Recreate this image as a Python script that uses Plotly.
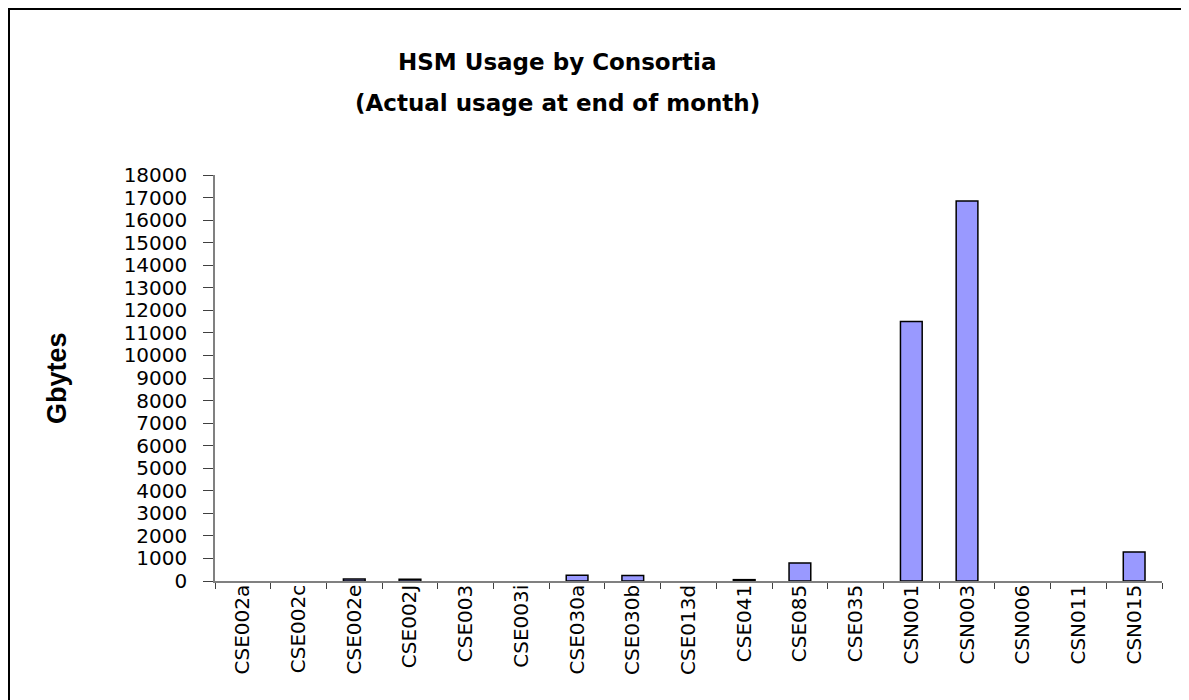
import plotly.graph_objects as go

consortia = ['CSE002a', 'CSE002c', 'CSE002e', 'CSE002J', 'CSE003', 'CSE003i',
             'CSE030a', 'CSE030b', 'CSE013d', 'CSE041', 'CSE085', 'CSE035',
             'CSN001', 'CSN003', 'CSN006', 'CSN011', 'CSN015']
# blank cells in the source sheet are left as None
gbytes = [None, None, 90, 80, None, None,
          260, 240, None, 60, 800, None,
          11500, 16850, None, None, 1290]
y_ticks = list(range(0, 18001, 1000))

# page has an 8px body margin, so the figure is a little smaller than the window
OFF = 8
W, H = 1189 - OFF, 700 - OFF
ML, MT = 215 - OFF, 175 - OFF
MR = W - (1162 - OFF)
MB = H - (581 - OFF)
pw = W - ML - MR
ph = H - MT - MB

WIDE = 'DejaVu Sans, Verdana, sans-serif'


def px_x(x):
    return (x - OFF - ML) / pw


def px_y(y):
    return (H - MB - (y - OFF)) / ph


fig = go.Figure()
fig.add_trace(go.Bar(
    x=consortia, y=gbytes,
    marker=dict(color='#9999FF', line=dict(color='black', width=1.5)),
    width=0.39,
))

fig.update_layout(
    width=W, height=H,
    margin=dict(l=ML, r=MR, t=MT, b=MB),
    paper_bgcolor='white', plot_bgcolor='white',
    showlegend=False,
    font=dict(family='Liberation Sans, Arial, sans-serif', color='black'),
)

for line, ypos in [('HSM Usage by Consortia', 62),
                   ('(Actual usage at end of month)', 103)]:
    fig.add_annotation(
        text=f'<b>{line}</b>', showarrow=False,
        xref='paper', yref='paper', x=px_x(557), y=px_y(ypos),
        xanchor='center', yanchor='middle', font=dict(size=23, family=WIDE),
    )

fig.update_xaxes(
    type='category', tickangle=-90, tickfont=dict(size=20, family=WIDE),
    showline=True, linecolor='#808080', linewidth=1.5,
    ticks='outside', ticklen=6, tickcolor='#404040', tickson='boundaries',
    showgrid=False, zeroline=False, ticklabelstandoff=-6,
)
fig.update_yaxes(
    range=[0, 18000], tickvals=y_ticks, ticktext=[str(v) for v in y_ticks],
    tickfont=dict(size=20, family=WIDE),
    showline=True, linecolor='#808080', linewidth=1.5,
    ticks='outside', ticklen=10, tickcolor='#404040',
    showgrid=False, zeroline=False, ticklabelstandoff=12,
)

fig.add_annotation(
    text='<b>Gbytes</b>', textangle=-90, showarrow=False,
    xref='paper', yref='paper', x=px_x(57), y=0.5,
    xanchor='center', yanchor='middle', font=dict(size=27),
)

# outer chart frame (left and top edges visible, rest runs off page)
fig.add_shape(
    type='rect', xref='paper', yref='paper',
    x0=px_x(OFF + 1), x1=px_x(1210),
    y0=px_y(720), y1=px_y(OFF + 1),
    line=dict(color='black', width=2),
)

fig.write_html('out.html')
